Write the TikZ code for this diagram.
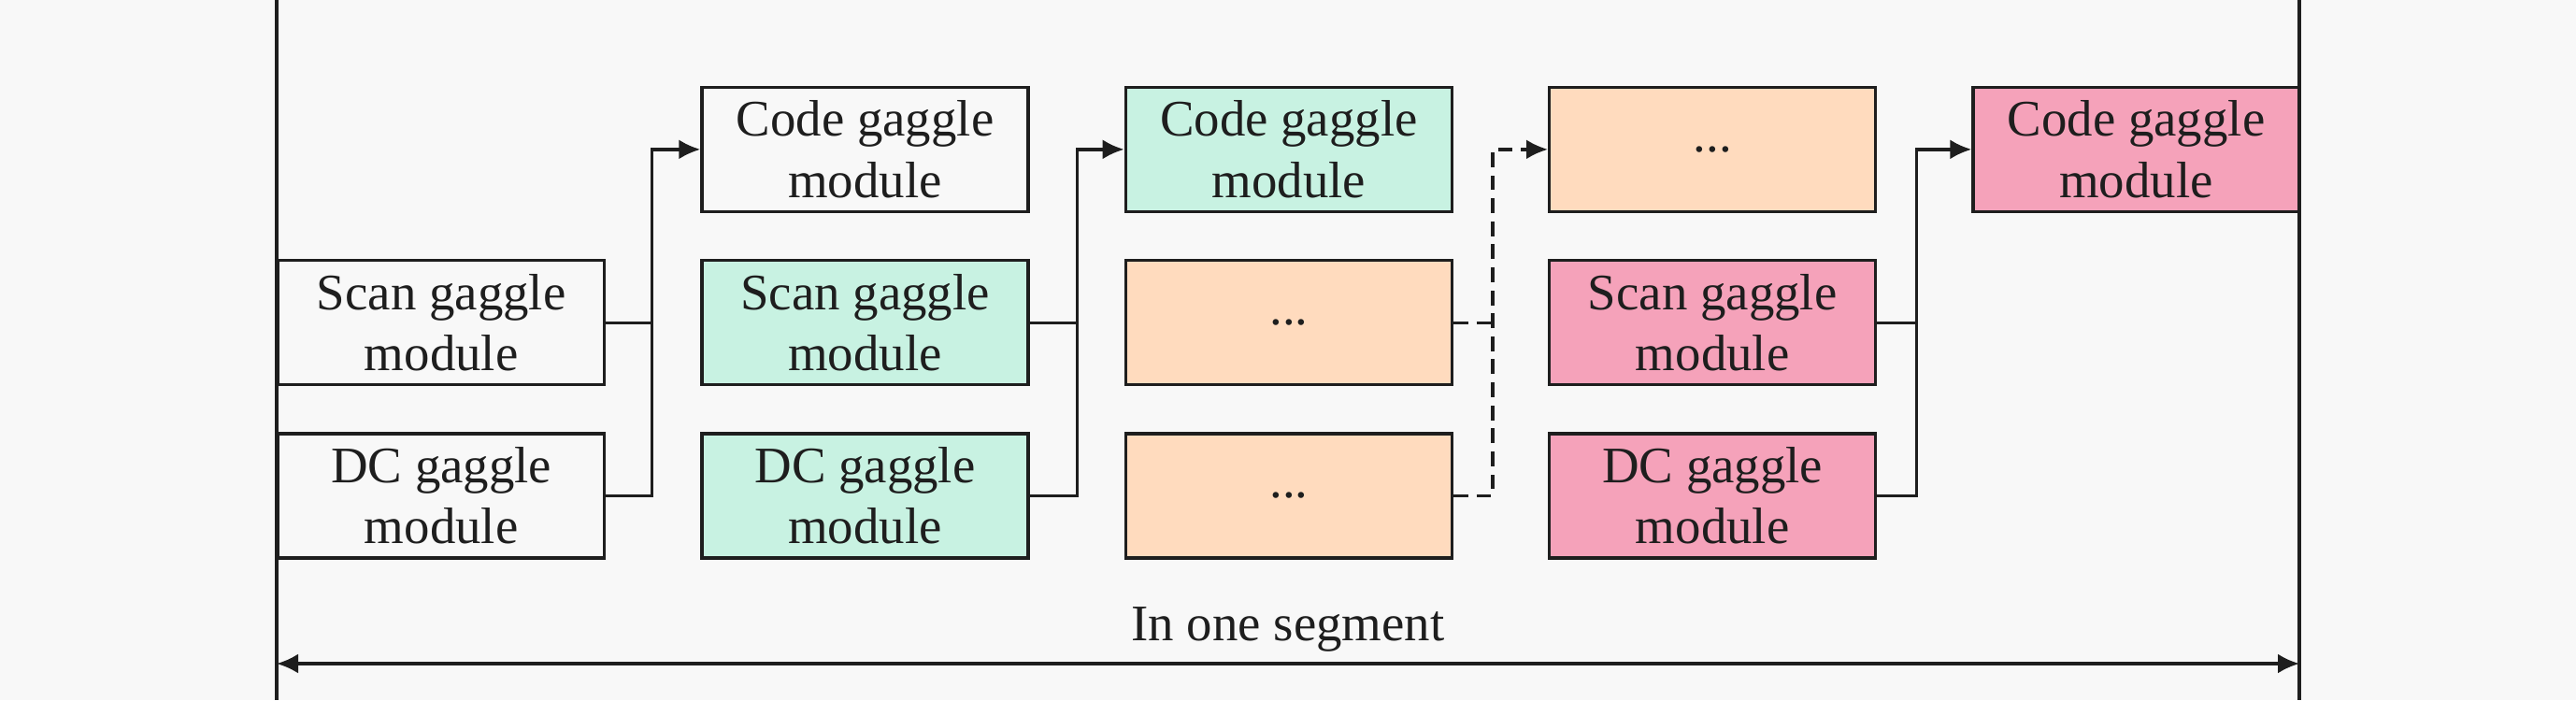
\documentclass[tikz,border=0pt]{standalone}
\usepackage{fontspec}
\setmainfont{Liberation Serif}
\usetikzlibrary{arrows.meta,positioning}
\definecolor{bgpaper}{RGB}{248,248,248}
\definecolor{mint}{RGB}{200,242,226}
\definecolor{peach}{RGB}{255,219,190}
\definecolor{rose}{RGB}{245,162,186}
\definecolor{ink}{RGB}{30,30,30}
\tikzset{
    basic/.style = {draw=ink, line width=0.95pt, rectangle, align=center, text=ink,
        minimum width=3.49cm, minimum height=1.33cm, inner sep=0pt,
        font=\fontsize{15.6}{18.6}\selectfont},
    plain module/.style = {basic},
    mint module/.style  = {basic, fill=mint},
    peach module/.style = {basic, fill=peach},
    rose module/.style  = {basic, fill=rose},
    link/.style = {draw=ink, line width=0.95pt},
    frame/.style = {draw=ink, line width=1.1pt}
}
\begin{document}
\begin{tikzpicture}[
    node distance=0.49cm and 1.01cm,
    >={Latex[length=2.3mm,width=2.1mm]}]
    \fill[bgpaper] (0,0) rectangle (27.56,-7.49);
    \useasboundingbox (0,0) rectangle (27.56,-7.49);
    % segment borders
    \coordinate (ftl) at (2.96,0);
    \coordinate (fbl) at (2.96,-7.49);
    \coordinate (ftr) at (24.60,0);
    \coordinate (fbr) at (24.60,-7.49);
    \draw[frame] (ftl) -- (fbl);
    \draw[frame] (ftr) -- (fbr);
    % stage 1
    \node[plain module, anchor=north west] (s1) at (2.96,-2.77) {Scan gaggle\\module};
    \node[plain module, below=of s1] (d1) {DC gaggle\\module};
    % stage 2
    \node[mint module, right=of s1] (s2) {Scan gaggle\\module};
    \node[plain module, above=of s2] (c2) {Code gaggle\\module};
    \node[mint module, below=of s2] (d2) {DC gaggle\\module};
    % stage 3
    \node[peach module, right=of s2] (s3) {...};
    \node[mint module, above=of s3] (c3) {Code gaggle\\module};
    \node[peach module, below=of s3] (d3) {...};
    % stage 4
    \node[rose module, right=of s3] (s4) {Scan gaggle\\module};
    \node[peach module, above=of s4] (c4) {...};
    \node[rose module, below=of s4] (d4) {DC gaggle\\module};
    % stage 5
    \node[rose module, right=of c4] (c5) {Code gaggle\\module};
    % joins
    \coordinate (j1) at ([xshift=0.49cm]s1.east);
    \coordinate (j2) at ([xshift=0.51cm]s2.east);
    \coordinate (j3) at ([xshift=0.42cm]s3.east);
    \coordinate (j4) at ([xshift=0.42cm]s4.east);
    \draw[link] (s1.east) -- (j1);
    \draw[link,->] (d1.east) -| (j1) |- (c2.west);
    \draw[link] (s2.east) -- (j2);
    \draw[link,->] (d2.east) -| (j2) |- (c3.west);
    \draw[link,dash pattern=on 4.5pt off 2.5pt] (s3.east) -- (j3);
    \draw[link,dash pattern=on 4.5pt off 2.5pt,->] (d3.east) -| (j3) |- (c4.west);
    \draw[link] (s4.east) -- (j4);
    \draw[link,->] (d4.east) -| (j4) |- (c5.west);
    % segment span
    \coordinate (al) at (2.96,-7.10);
    \coordinate (ar) at (24.60,-7.10);
    \draw[link,<->] (al) -- (ar);
    \node[text=ink, font=\fontsize{15.6}{18.6}\selectfont, anchor=base] (seg) at (13.78,-6.85) {In one segment};
\end{tikzpicture}
\end{document}
